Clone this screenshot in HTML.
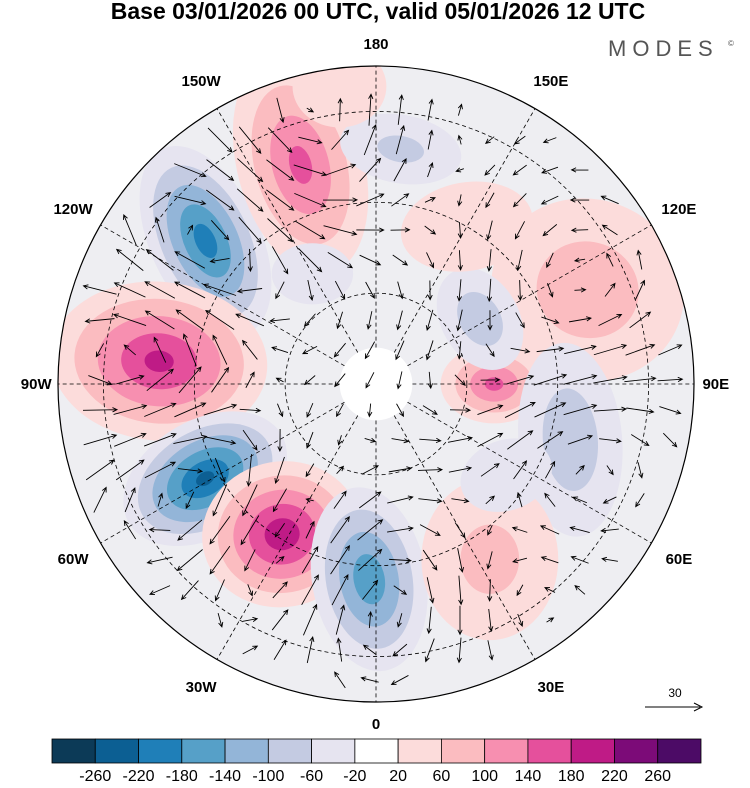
<!DOCTYPE html>
<html><head><meta charset="utf-8">
<style>
html,body{margin:0;padding:0;background:#fff;}
body{width:750px;height:783px;overflow:hidden;font-family:"Liberation Sans",sans-serif;}
svg text{font-family:"Liberation Sans",sans-serif;}
</style></head>
<body>
<svg id="chart" width="750" height="783" viewBox="0 0 750 783" xmlns="http://www.w3.org/2000/svg">
<text x="378" y="19" text-anchor="middle" font-size="23" font-weight="bold">Base 03/01/2026 00 UTC, valid 05/01/2026 12 UTC</text>
<text x="608" y="56" font-size="22" letter-spacing="6" fill="#555">MODES</text>
<text x="728" y="46" font-size="8" fill="#555">©</text>
<defs><clipPath id="disk"><circle cx="376" cy="384" r="318"/></clipPath></defs>
<g id="map" clip-path="url(#disk)">
<rect x="0" y="0" width="750" height="783" fill="#eeeef2"/>
</g>
<circle cx="376" cy="384" r="318" fill="none" stroke="#000" stroke-width="1.2"/>
<g id="labels"></g>
<g id="cbar"></g>
<g>
<text x="675" y="697" text-anchor="middle" font-size="12">30</text>
<line x1="645" y1="707" x2="700" y2="707" stroke="#000" stroke-width="1"/>
<path d="M694,703 L702,707 L694,711" fill="none" stroke="#000"/>
</g>
</svg>
<script>
// colorbar data
const levels=[-260,-220,-180,-140,-100,-60,-20,20,60,100,140,180,220,260];
const colors=['#0c3a57','#0c5f93','#1f7fb8','#56a0c8','#93b5d8','#c4cbe2','#e6e4f0','#ffffff','#fcdcdb','#fbbcc0','#f78fb0','#e5509c','#bf1b86','#7c0b78','#4c0b66'];
// anomaly centers: longitude (deg, E positive), colatitude (deg), value
const anomLon=[-130,-161,-96,-61,-32,-2,90,114,74,33,122,174,-173,-150,55,150];
const anomColat=[49,51,48,43,39,43,26,51,44.5,46,27,52,66,28,35,40];
const anomVal=[-200,150,190,-230,210,-170,150,90,-90,75,-90,-70,60,-40,-60,50];
const meridians=[0,30,60,90,120,150,180,-150,-120,-90,-60,-30];
const meridianLabels=['0','30E','60E','90E','120E','150E','180','150W','120W','90W','60W','30W'];
const parallels=[20,40,60];
// style (size) arrays
const anomRx=[38,45,75,60,55,40,38,75,40,55,30,50,40,40,40,60];
const anomRy=[70,80,55,40,50,65,28,70,75,65,42,28,35,30,30,40];
const anomRot=[-25,-15,5,-30,-10,-10,0,20,-5,0,-30,10,0,0,-20,-10];

const NS='http://www.w3.org/2000/svg';
const cx=376,cy=384,R=318,maxColat=70;
function rad(c){return c/maxColat*R;}
function px(lon,c){return cx+rad(c)*Math.sin(lon*Math.PI/180);}
function py(lon,c){return cy+rad(c)*Math.cos(lon*Math.PI/180);}
function colorFor(v){let i=0;while(i<levels.length&&v>levels[i])i++;return colors[i];}
function mk(tag,attrs,parent){const e=document.createElementNS(NS,tag);for(const k in attrs)e.setAttribute(k,attrs[k]);parent.appendChild(e);return e;}

const map=document.getElementById('map');
anomVal.forEach((v,i)=>{
  const g=mk('g',{transform:`translate(${px(anomLon[i],anomColat[i])},${py(anomLon[i],anomColat[i])}) rotate(${anomRot[i]})`},map);
  
  
  const a=Math.abs(v);const sgn=Math.sign(v);
  const thr=[-20,-60,-100,-140,-180,-220,-260,20,60,100,140,180,220,260].filter(t=>Math.sign(t)===sgn&&Math.abs(t)<a).sort((p,q)=>Math.abs(p)-Math.abs(q));
  const outer=1.6;
  thr.forEach(t=>{
    const f=outer*(1-Math.abs(t)/(a+15));
    mk('ellipse',{cx:0,cy:0,rx:anomRx[i]*f,ry:anomRy[i]*f,fill:colorFor(t+sgn*20)},g);
  });
});
parallels.forEach(c=>{const e=mk('circle',{cx,cy,r:rad(c),fill:'none',stroke:'#000','stroke-width':0.8,'stroke-dasharray':'4,3'},map);
});
meridians.forEach(l=>{const e=mk('line',{x1:px(l,8),y1:py(l,8),x2:px(l,maxColat),y2:py(l,maxColat),stroke:'#000','stroke-width':0.8,'stroke-dasharray':'4,3'},map);
});
const cap=mk('circle',{cx,cy,r:rad(8),fill:'#fff'},map);

function field(x,y){let u=0,w=0;anomVal.forEach((v,i)=>{const ax=px(anomLon[i],anomColat[i]),ay=py(anomLon[i],anomColat[i]);const dx=x-ax,dy=y-ay;const s=60;const e=Math.exp(-(dx*dx+dy*dy)/(2*s*s*1.8));u+=v*dy*e;w+=-v*dx*e;});return [u*0.004,w*0.004];}
const ag=mk('g',{},map);

for(let y=80;y<700;y+=30){for(let x=70;x<690;x+=30){const dx=x-cx,dy=y-cy;if(dx*dx+dy*dy>300*300)continue;
 let [u,w]=field(x,y);u+=3;let m=Math.hypot(u,w);if(m<1)continue;const L=Math.min(34,6+m*0.9);u=u/m*L;w=w/m*L;
 const x1=x-u/2,y1=y-w/2,x2=x+u/2,y2=y+w/2;const an=Math.atan2(w,u);
 mk('path',{d:`M${x1},${y1}L${x2},${y2}M${x2-5*Math.cos(an-0.45)},${y2-5*Math.sin(an-0.45)}L${x2},${y2}L${x2-5*Math.cos(an+0.45)},${y2-5*Math.sin(an+0.45)}`,stroke:'#000','stroke-width':0.9,fill:'none'},ag);}}
const lg=document.getElementById('labels');
meridians.forEach((l,i)=>{const diag=(Math.abs(l)%90)!==0;const c=diag?77:74.8;
const t=mk('text',{x:px(l,c),y:py(l,c)+5,'text-anchor':'middle','font-size':15,'font-weight':'bold'},lg);
t.textContent=meridianLabels[i];
});
const cb=document.getElementById('cbar');const x0=52,w=649/colors.length;
colors.forEach((c,i)=>{const r=mk('rect',{x:x0+i*w,y:739,width:w,height:24,fill:c,stroke:'#000','stroke-width':0.8},cb);
});
levels.forEach((v,i)=>{const t=mk('text',{x:x0+(i+1)*w,y:781,'text-anchor':'middle','font-size':16},cb);t.textContent=v;
});
</script>
</body></html>
